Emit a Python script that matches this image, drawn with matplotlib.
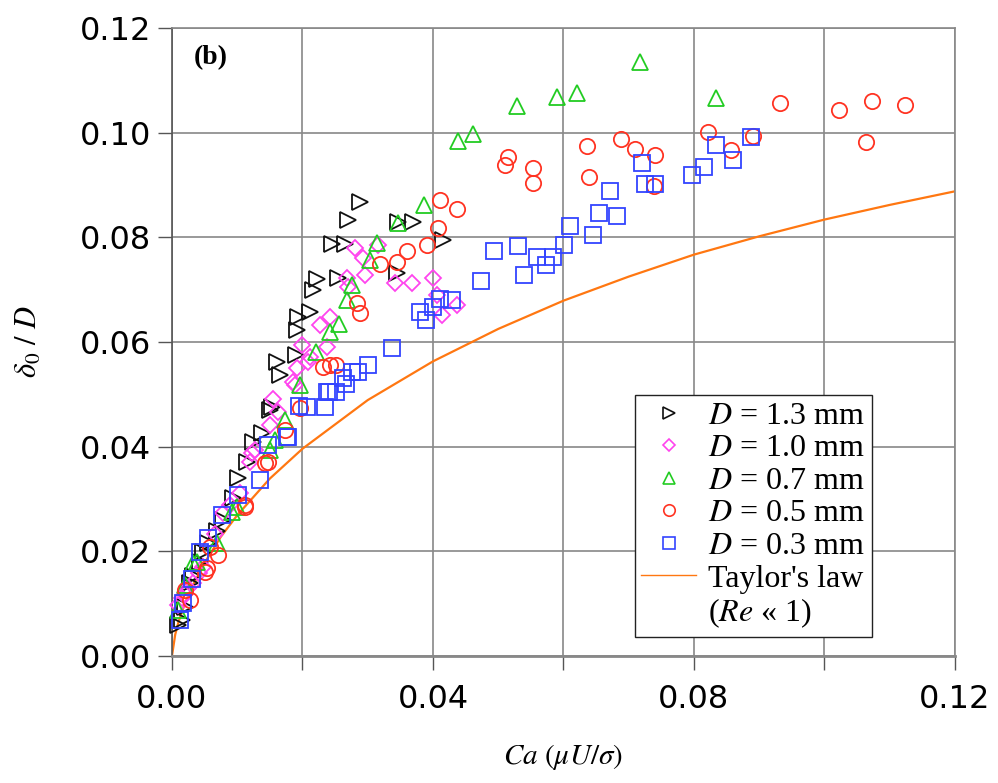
import matplotlib
matplotlib.use("Agg")
import matplotlib.pyplot as plt
from matplotlib.lines import Line2D

# ---------------------------------------------------------------------------
# Data
# ---------------------------------------------------------------------------
ca_13 = [0.00097, 0.00148, 0.00199, 0.00276, 0.00327, 0.00429, 0.0048, 0.00557,
         0.00685, 0.00787, 0.0094, 0.01016, 0.01145, 0.01246, 0.01375, 0.01500,
         0.01528, 0.01604, 0.01655, 0.01900, 0.01911, 0.01936, 0.02115, 0.02166,
         0.02217, 0.02447, 0.02549, 0.02651, 0.02693, 0.02881, 0.03443, 0.03469,
         0.03699, 0.04148]
d_13 = [0.0059, 0.0069, 0.0094, 0.0139, 0.0152, 0.0180, 0.0199, 0.0215,
        0.0238, 0.0260, 0.0301, 0.0341, 0.0371, 0.0409, 0.0426, 0.0470,
        0.0476, 0.0562, 0.0537, 0.0576, 0.0623, 0.0648, 0.0658, 0.0699,
        0.0720, 0.0787, 0.0723, 0.0787, 0.0833, 0.0868, 0.0732, 0.0830,
        0.0830, 0.0795]

ca_10 = [0.00097, 0.00148, 0.00199, 0.0025, 0.00327, 0.0041, 0.0048, 0.00659,
         0.00787, 0.00889, 0.01042, 0.01195, 0.01220, 0.01272, 0.01502, 0.01553,
         0.0163, 0.01860, 0.01885, 0.01911, 0.01988, 0.02089, 0.02110, 0.02268,
         0.02371, 0.02421, 0.02677, 0.02702, 0.02805, 0.02932, 0.02958, 0.03162,
         0.03418, 0.03674, 0.03995, 0.04057, 0.04133, 0.04363]
d_10 = [0.0098, 0.0110, 0.0118, 0.0129, 0.0139, 0.0158, 0.0171, 0.0234,
        0.0273, 0.0289, 0.0311, 0.0371, 0.0387, 0.0394, 0.0441, 0.0492,
        0.0467, 0.0524, 0.0518, 0.0550, 0.0594, 0.0562, 0.0572, 0.0632,
        0.0591, 0.0648, 0.0722, 0.0706, 0.0779, 0.0760, 0.0728, 0.0785,
        0.0712, 0.0712, 0.0722, 0.0690, 0.0652, 0.0671]

ca_07 = [0.00097, 0.00199, 0.0032, 0.00378, 0.00685, 0.0092, 0.00991, 0.01502,
         0.01579, 0.01732, 0.01962, 0.02207, 0.02421, 0.02564, 0.02677, 0.02754,
         0.03034, 0.03137, 0.03469, 0.03862, 0.04378, 0.04608, 0.05283, 0.05896,
         0.06202, 0.07172, 0.08337]
d_07 = [0.0088, 0.0136, 0.0177, 0.0180, 0.0215, 0.0275, 0.0285, 0.0394,
        0.0413, 0.0451, 0.0518, 0.0581, 0.0620, 0.0634, 0.0680, 0.0709,
        0.0757, 0.0789, 0.0827, 0.0862, 0.0985, 0.0997, 0.1051, 0.1069,
        0.1075, 0.1136, 0.1066]

ca_05 = [0.00199, 0.0028, 0.00506, 0.0053, 0.00582, 0.0071, 0.0112, 0.01119,
         0.0143, 0.01476, 0.01732, 0.01962, 0.02319, 0.02421, 0.02513, 0.02830,
         0.02881, 0.03188, 0.03444, 0.03607, 0.03903, 0.04082, 0.04107, 0.04373,
         0.05103, 0.05154, 0.05537, 0.05537, 0.06355, 0.06396, 0.06877, 0.07096,
         0.07387, 0.07402, 0.08210, 0.08563, 0.08900, 0.09318, 0.10223, 0.10641,
         0.10723, 0.11234]
d_05 = [0.0126, 0.0107, 0.0161, 0.0168, 0.0209, 0.0193, 0.0285, 0.0289,
        0.0369, 0.0371, 0.0432, 0.0473, 0.0553, 0.0556, 0.0556, 0.0674,
        0.0656, 0.0750, 0.0753, 0.0774, 0.0785, 0.0817, 0.0871, 0.0855,
        0.0938, 0.0954, 0.0932, 0.0904, 0.0975, 0.0916, 0.0987, 0.0968,
        0.0898, 0.0957, 0.1002, 0.0966, 0.0994, 0.1057, 0.1043, 0.0983,
        0.1061, 0.1052]

ca_03 = [0.00123, 0.00173, 0.00301, 0.00429, 0.00557, 0.00761, 0.01016, 0.01349,
         0.0147, 0.0176, 0.01783, 0.0194, 0.02064, 0.02345, 0.02371, 0.0240,
         0.0252, 0.02626, 0.02660, 0.02754, 0.02855, 0.03009, 0.03367, 0.03801,
         0.03893, 0.03995, 0.04107, 0.04286, 0.04731, 0.04935, 0.05298, 0.05395,
         0.05589, 0.05732, 0.05844, 0.06008, 0.0610, 0.06457, 0.06549, 0.06713,
         0.06825, 0.07198, 0.07249, 0.07402, 0.07974, 0.08153, 0.08337, 0.08593,
         0.08869]
d_03 = [0.0069, 0.0101, 0.0148, 0.0199, 0.0225, 0.0269, 0.0308, 0.0336,
        0.0403, 0.0419, 0.0419, 0.0477, 0.0476, 0.0476, 0.0505, 0.0505,
        0.0505, 0.0531, 0.0520, 0.0543, 0.0543, 0.0556, 0.0588, 0.0658,
        0.0642, 0.0667, 0.0683, 0.0680, 0.0717, 0.0773, 0.0783, 0.0729,
        0.0763, 0.0747, 0.0762, 0.0785, 0.0822, 0.0804, 0.0846, 0.0889,
        0.0841, 0.0943, 0.0902, 0.0902, 0.0920, 0.0935, 0.0976, 0.0948,
        0.0992]

# Taylor's law curve
ca_taylor = [0.0, 0.0005, 0.001, 0.002, 0.003, 0.005, 0.0075, 0.01, 0.015,
             0.02, 0.03, 0.04, 0.05, 0.06, 0.07, 0.08, 0.09, 0.10, 0.11, 0.12]
d_taylor = [0.0, 0.0041, 0.0065, 0.0101, 0.0130, 0.0178, 0.0228, 0.0269,
            0.0339, 0.0396, 0.0489, 0.0563, 0.0625, 0.0679, 0.0725, 0.0767,
            0.0802, 0.0834, 0.0862, 0.0888]

series = [
    (ca_13, d_13, ">", "#111111", 11, "1.3"),
    (ca_10, d_10, "D", "#ff44ee", 8.5, "1.0"),
    (ca_07, d_07, "^", "#22cc22", 11, "0.7"),
    (ca_05, d_05, "o", "#ff3322", 11, "0.5"),
    (ca_03, d_03, "s", "#3344ff", 11, "0.3"),
]

plt.rcParams["mathtext.fontset"] = "stix"

fig = plt.figure(figsize=(9.98, 7.83), dpi=100)
ax = fig.add_axes([0.1723, 0.1622, 0.7846, 0.8020])

for ca, d, mk, col, ms, lab in series:
    ax.plot(ca, d, linestyle="none", marker=mk, markersize=ms,
            markerfacecolor="none", markeredgecolor=col, markeredgewidth=1.3,
            clip_on=False, zorder=3)

ax.plot(ca_taylor, d_taylor, color="#ff7711", lw=1.6, zorder=2)

ax.set_xlim(0, 0.12)
ax.set_ylim(0, 0.12)

xt = [0.0, 0.02, 0.04, 0.06, 0.08, 0.10, 0.12]
ax.set_xticks(xt)
ax.set_xticklabels(["0.00", "", "0.04", "", "0.08", "", "0.12"],
                   family="DejaVu Sans", fontsize=23)
yt = [0.0, 0.02, 0.04, 0.06, 0.08, 0.10, 0.12]
ax.set_yticks(yt)
ax.set_yticklabels([f"{v:.2f}" for v in yt], family="DejaVu Sans", fontsize=23)
ax.tick_params(axis="x", direction="out", length=10, width=1, color="#555555", pad=10)
ax.tick_params(axis="y", direction="out", length=10, width=1, color="#555555", pad=5)

ax.grid(True, color="#888888", lw=1.2)
ax.set_axisbelow(True)
for side, sp in ax.spines.items():
    sp.set_color("#888888")
    sp.set_linewidth(1.2)
ax.spines["left"].set_color("#555555")
ax.spines["bottom"].set_linewidth(2.0)

fig.text(563 / 998, 1 - 757 / 783, r"$Ca\ (\mu U/\sigma)$", fontsize=21,
         ha="center", va="center")
fig.text(28 / 998, 1 - 342 / 783, r"$\delta_0\ /\ D$", fontsize=22,
         ha="center", va="center", rotation=90)

ax.text(0.028, 0.973, "(b)", transform=ax.transAxes, ha="left", va="top",
        family="Liberation Serif", fontweight="bold", fontsize=20)

handles = []
for ca, d, mk, col, ms, lab in series:
    handles.append(Line2D([], [], linestyle="none", marker=mk, markersize=ms * 0.75,
                          markerfacecolor="none", markeredgecolor=col,
                          markeredgewidth=1.2, label=rf"$D$ = {lab} mm"))
handles.append(Line2D([], [], color="#ff7711", lw=1.0, label="Taylor's law"))
handles.append(Line2D([], [], color="none", lw=0, label=r"($Re$ « 1)"))

leg = ax.legend(handles=handles, loc="upper left", bbox_to_anchor=(0.5913, 0.4156),
                prop={"family": "Liberation Serif", "size": 23},
                frameon=True, fancybox=False, framealpha=1, edgecolor="#222222",
                borderpad=0.2, labelspacing=0.1, handlelength=1.7,
                handletextpad=0.4, borderaxespad=0)
leg.get_frame().set_linewidth(1.0)

fig.savefig("out.png", dpi=100, facecolor="white")
